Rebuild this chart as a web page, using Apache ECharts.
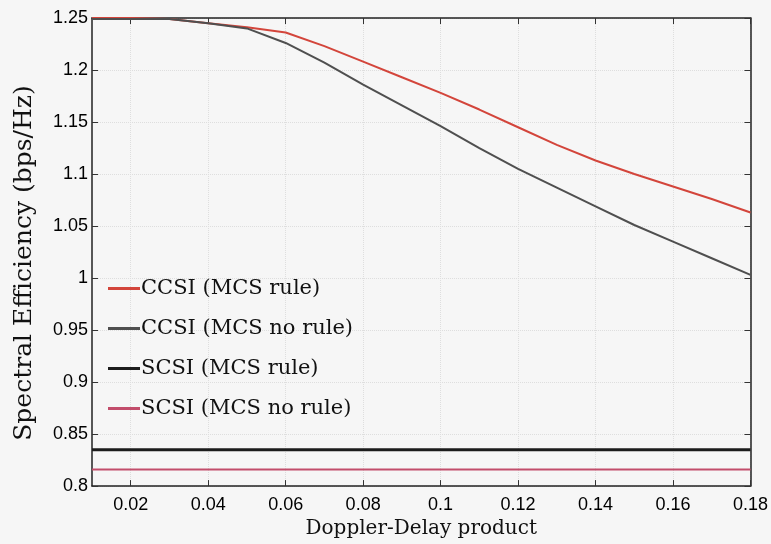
<!DOCTYPE html>
<html>
<head>
<meta charset="utf-8">
<script src="https://cdn.jsdelivr.net/npm/echarts@6/dist/echarts.min.js"></script>
<style>
  html, body { margin: 0; padding: 0; background: #f6f6f6; }
  #main { width: 771px; height: 544px; }
</style>
</head>
<body>
<div id="main"></div>
<script>
// Doppler-Delay product (x)
var dopplerDelay = [0.01, 0.02, 0.03, 0.04, 0.05, 0.06, 0.07, 0.08, 0.09,
  0.10, 0.11, 0.12, 0.13, 0.14, 0.15, 0.16, 0.17, 0.18];

var ccsiRule = [1.250, 1.250, 1.249, 1.245, 1.241, 1.236, 1.223, 1.208, 1.193,
  1.178, 1.162, 1.145, 1.128, 1.113, 1.100, 1.088, 1.076, 1.063];
var ccsiNoRule = [1.249, 1.249, 1.249, 1.245, 1.240, 1.226, 1.207, 1.186, 1.166,
  1.146, 1.125, 1.105, 1.087, 1.069, 1.051, 1.035, 1.019, 1.003];
var scsiRule = [0.835, 0.835, 0.835, 0.835, 0.835, 0.835, 0.835, 0.835, 0.835,
  0.835, 0.835, 0.835, 0.835, 0.835, 0.835, 0.835, 0.835, 0.835];
var scsiNoRule = [0.816, 0.816, 0.816, 0.816, 0.816, 0.816, 0.816, 0.816, 0.816,
  0.816, 0.816, 0.816, 0.816, 0.816, 0.816, 0.816, 0.816, 0.816];

var seriesNames = ['CCSI (MCS rule)', 'CCSI (MCS no rule)', 'SCSI (MCS rule)', 'SCSI (MCS no rule)'];
var xTicks = [0.02, 0.04, 0.06, 0.08, 0.10, 0.12, 0.14, 0.16, 0.18];

function pairs(ys) {
  return dopplerDelay.map(function (x, i) { return [x, ys[i]]; });
}

var chart = echarts.init(document.getElementById('main'));

var tickFont = { fontFamily: 'Liberation Sans', fontSize: 18, color: '#000' };
var serif = 'DejaVu Serif';
var grid = { color: '#dedede', type: 'dotted' };

var option = {
  backgroundColor: '#f6f6f6',
  animation: false,
  grid: { left: 92, right: 20, top: 18, bottom: 55 },
  legend: {
    orient: 'vertical',
    left: 103,
    top: 273,
    itemGap: 19,
    itemWidth: 32,
    itemHeight: 3,
    icon: 'rect',
    selectedMode: false,
    textStyle: { fontFamily: serif, fontSize: 21, color: '#111', padding: [0, 0, 0, -4] },
    data: seriesNames
  },
  xAxis: [{
    type: 'value',
    min: 0.01,
    max: 0.18,
    name: 'Doppler-Delay product',
    nameLocation: 'middle',
    nameGap: 27,
    nameTextStyle: { fontFamily: serif, fontSize: 20, color: '#111' },
    axisLine: { show: true, lineStyle: { color: '#222', width: 1.5 } },
    axisTick: { inside: true, length: 6, customValues: xTicks, lineStyle: { color: '#333' } },
    axisLabel: Object.assign({ customValues: xTicks, margin: 10 }, tickFont),
    splitLine: { show: true, lineStyle: grid }
  }, {
    type: 'value',
    position: 'top',
    min: 0.01,
    max: 0.18,
    axisLine: { show: true, lineStyle: { color: '#222', width: 1.5 } },
    axisTick: { inside: true, length: 6, customValues: xTicks, lineStyle: { color: '#333' } },
    axisLabel: { show: false },
    splitLine: { show: false }
  }],
  yAxis: [{
    type: 'value',
    min: 0.8,
    max: 1.25,
    interval: 0.05,
    name: 'Spectral Efficiency (bps/Hz)',
    nameLocation: 'middle',
    nameGap: 55,
    nameTextStyle: { fontFamily: serif, fontSize: 25, color: '#111', padding: [0, 22, 0, 0] },
    axisLine: { show: true, lineStyle: { color: '#222', width: 1.5 } },
    axisTick: { inside: true, length: 6, lineStyle: { color: '#333' } },
    axisLabel: Object.assign({ margin: 4 }, tickFont),
    splitLine: { show: true, lineStyle: grid }
  }, {
    type: 'value',
    position: 'right',
    min: 0.8,
    max: 1.25,
    interval: 0.05,
    axisLine: { show: true, lineStyle: { color: '#222', width: 1.5 } },
    axisTick: { inside: true, length: 6, lineStyle: { color: '#333' } },
    axisLabel: { show: false },
    splitLine: { show: false }
  }],
  series: [{
    name: seriesNames[0],
    type: 'line',
    showSymbol: false,
    data: pairs(ccsiRule),
    color: '#d3453b',
    lineStyle: { width: 2 }
  }, {
    name: seriesNames[1],
    type: 'line',
    showSymbol: false,
    data: pairs(ccsiNoRule),
    color: '#4f4f4f',
    lineStyle: { width: 2 }
  }, {
    name: seriesNames[2],
    type: 'line',
    showSymbol: false,
    data: pairs(scsiRule),
    color: '#1c1c1c',
    lineStyle: { width: 3 }
  }, {
    name: seriesNames[3],
    type: 'line',
    showSymbol: false,
    data: pairs(scsiNoRule),
    color: '#c24d6b',
    lineStyle: { width: 2 }
  }]
};

chart.setOption(option);
</script>
</body>
</html>
